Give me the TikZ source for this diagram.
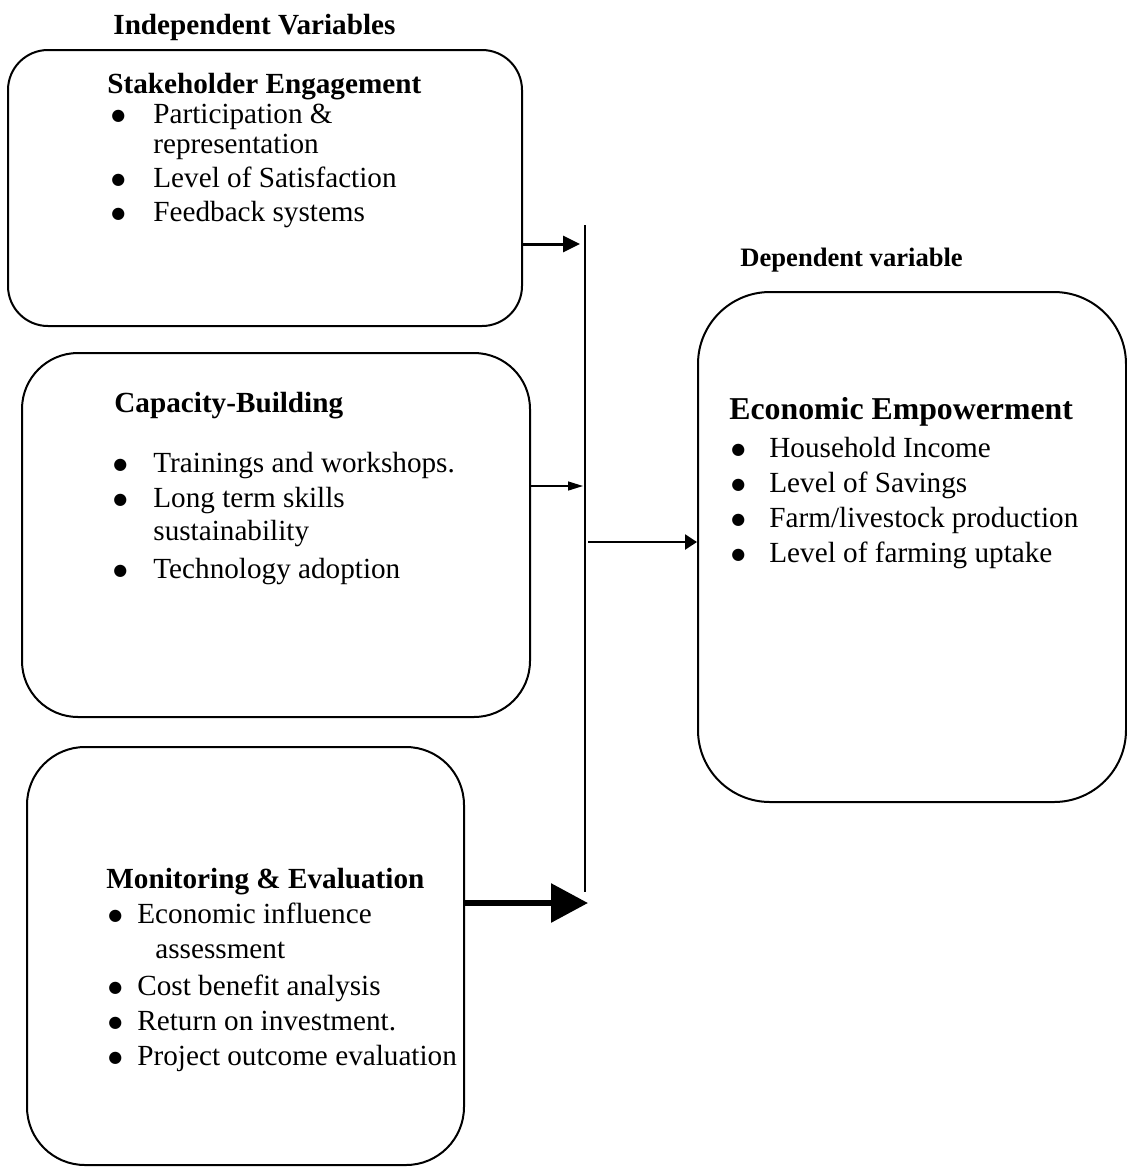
\documentclass[tikz,border=0pt]{standalone}
\usepackage{fontspec}
\setmainfont{Liberation Serif}
\newfontfamily\symfont{DejaVu Sans}
\usetikzlibrary{arrows.meta,positioning}

\newcommand{\bul}[1]{\makebox[#1][l]{\raisebox{1.4pt}{\symfont\fontsize{8}{8}\selectfont ●}}}

\tikzset{
  varbox/.style={draw, line width=1pt, rounded corners=#1, inner sep=0pt},
  txt/.style={anchor=base west, inner sep=0pt, font=\fontsize{14.6}{17}\selectfont},
  hd/.style={anchor=base west, inner sep=0pt, font=\fontsize{14.6}{17}\selectfont\bfseries},
}

\begin{document}
\begin{tikzpicture}[x=0.5pt,y=-0.5pt]
\useasboundingbox (0,0) rectangle (1127,1169);
% boxes
\node[varbox=20pt, minimum width=257pt, minimum height=138pt] (stake) at (265,188) {};
\node[varbox=28pt, minimum width=254pt, minimum height=182pt] (cap) at (276,535) {};
\node[varbox=29pt, minimum width=218.5pt, minimum height=209pt] (mande) at (245.5,956) {};
\node[varbox=36pt, minimum width=214pt, minimum height=255pt] (econ) at (912,547) {};
% headings
\node[hd] (indep) at (113,34) {Independent Variables};
\node[hd, font=\fontsize{13.3}{15}\selectfont\bfseries] (dep) at (740,266) {Dependent variable};
% stakeholder engagement
\node[hd] (stakehd) at (107,93) {Stakeholder Engagement};
\node[txt] (s1) at (111,123) {\bul{21pt}Participation \&};
\node[txt] (s1b) at (153,153) {representation};
\node[txt] (s2) at (111,187) {\bul{21pt}Level of Satisfaction};
\node[txt] (s3) at (111,221) {\bul{21pt}Feedback systems};
% capacity building
\node[hd] (caphd) at (114,412) {Capacity-Building};
\node[txt] (c1) at (113,472) {\bul{20pt}Trainings and workshops.};
\node[txt] (c2) at (113,507) {\bul{20pt}Long term skills};
\node[txt] (c2b) at (153,540) {sustainability};
\node[txt] (c3) at (113,578) {\bul{20pt}Technology adoption};
% monitoring and evaluation
\node[hd] (mandehd) at (106,888) {Monitoring \& Evaluation};
\node[txt] (m1) at (108,923) {\bul{14.5pt}Economic influence};
\node[txt] (m1b) at (155,958) {assessment};
\node[txt] (m2) at (108,995) {\bul{14.5pt}Cost benefit analysis};
\node[txt] (m3) at (108,1030) {\bul{14.5pt}Return on investment.};
\node[txt] (m4) at (108,1065) {\bul{14.5pt}Project outcome evaluation};
% economic empowerment
\node[hd, font=\fontsize{15.9}{18}\selectfont\bfseries] (econhd) at (729,419) {Economic Empowerment};
\node[txt] (e1) at (731,457) {\bul{19pt}Household Income};
\node[txt] (e2) at (731,492) {\bul{19pt}Level of Savings};
\node[txt] (e3) at (731,527) {\bul{19pt}Farm/livestock production};
\node[txt] (e4) at (731,562) {\bul{19pt}Level of farming uptake};
% joining bar and arrows
\coordinate (bartop) at (585,225);
\coordinate (barbot) at (585,892);
\coordinate (j1) at (585,244);
\coordinate (j2) at (585,486);
\coordinate (j3) at (585,542);
\coordinate (j4) at (585,903);
\draw[line width=0.9pt] (bartop) -- (barbot);
\draw[line width=1.5pt, -{Triangle[length=8.5pt,width=8pt]}, shorten >=2.5pt] (stake.east |- j1) -- (j1);
\draw[line width=0.7pt, -{Triangle[length=7.5pt,width=4.5pt]}, shorten >=1pt] (cap.east |- j2) -- (j2);
\draw[line width=1.2pt, -{Triangle[length=6pt,width=7.5pt]}, shorten <=1.5pt] (j3) -- (econ.west |- j3);
\draw[line width=3pt, -{Triangle[length=18.5pt,width=19pt]}, shorten >=-1.5pt] (mande.east |- j4) -- (j4);
\end{tikzpicture}
\end{document}
